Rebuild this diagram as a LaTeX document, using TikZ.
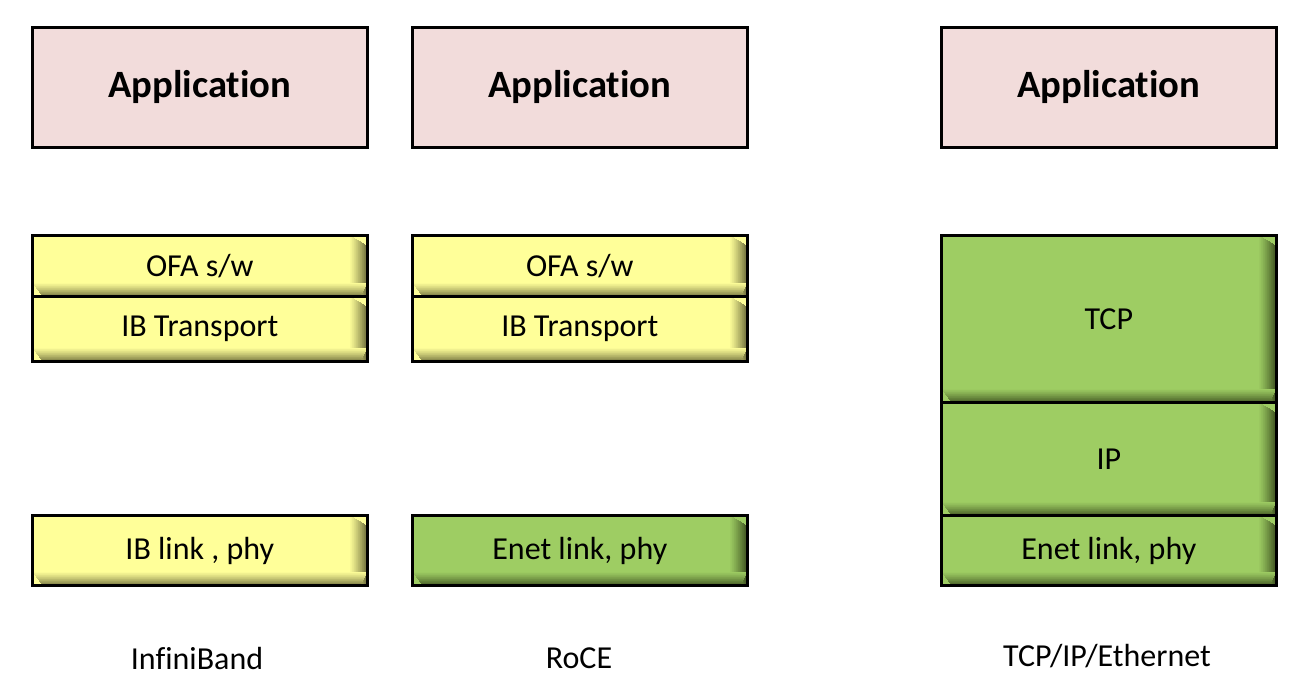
\documentclass[tikz,border=0pt]{standalone}
\usepackage{fontspec}
\setmainfont{Carlito}[Ligatures=NoCommon]
\usetikzlibrary{calc}
\begin{document}
\begin{tikzpicture}[x=0.75pt,y=-0.75pt]
\definecolor{apppink}{HTML}{F2DCDB}
\definecolor{yel}{HTML}{FFFF99}
\definecolor{yeldark}{HTML}{7E7E45}
\definecolor{grn}{HTML}{9ECD63}
\definecolor{grndark}{HTML}{4A6128}
\tikzset{
  layerbox/.style={draw=black, line width=2.2pt, inner sep=0pt, anchor=north west,
    minimum width=251pt, font=\fontsize{24}{28}\selectfont},
  appbox/.style={layerbox, fill=apppink, minimum height=90pt, font=\bfseries\fontsize{29}{34}\selectfont},
  shadowbox/.style 2 args={layerbox, fill=#1,
    path picture={
      \foreach \i [evaluate=\i as \p using 100*((\i+1)/24)^1.2] in {0,...,23}{
        \fill[#2!\p!#1]
          ($(path picture bounding box.north east)+(-13pt+\i*0.5pt,-\i*0.3pt)$) rectangle
          ($(path picture bounding box.south east)+(-13pt+\i*0.5pt+0.6pt,0pt)$);
      }
      \foreach \i [evaluate=\i as \p using 100*((\i+1)/20)^1.2] in {0,...,19}{
        \fill[#2!\p!#1]
          ($(path picture bounding box.south west)+(\i*0.4pt,10pt-\i*0.5pt)$) rectangle
          ($(path picture bounding box.south east)+(-\i*0.25pt,10pt-\i*0.5pt-0.6pt)$);
      }
    }},
  ylbox/.style={shadowbox={yel}{yeldark}},
  gnbox/.style={shadowbox={grn}{grndark}},
  caption/.style={font=\fontsize{24}{28}\selectfont}
}
\useasboundingbox (0,0) rectangle (1298,690);
% InfiniBand
\node[appbox] (app1) at (31,26) {Application};
\node[ylbox, minimum height=45.75pt] (ofa1) at (31,234) {OFA s/w};
\node[ylbox, minimum height=48.75pt] (ibt1) at (31,295) {IB Transport};
\node[ylbox, minimum height=52.5pt] (ibl1) at (31,514) {IB link , phy};
% RoCE
\node[appbox] (app2) at (411,26) {Application};
\node[ylbox, minimum height=45.75pt] (ofa2) at (411,234) {OFA s/w};
\node[ylbox, minimum height=48.75pt] (ibt2) at (411,295) {IB Transport};
\node[gnbox, minimum height=52.5pt] (enet2) at (411,514) {Enet link, phy};
% TCP/IP
\node[appbox] (app3) at (940,26) {Application};
\node[gnbox, minimum height=125.25pt] (tcp3) at (940,234) {TCP};
\node[gnbox, minimum height=84.75pt] (ip3) at (940,401) {IP};
\node[gnbox, minimum height=52.5pt] (enet3) at (940,514) {Enet link, phy};
% captions
\node[caption] (c1) at (197,658) {InfiniBand};
\node[caption] (c2) at (579,658) {RoCE};
\node[caption] (c3) at (1107,656) {TCP/IP/Ethernet};
\end{tikzpicture}
\end{document}
